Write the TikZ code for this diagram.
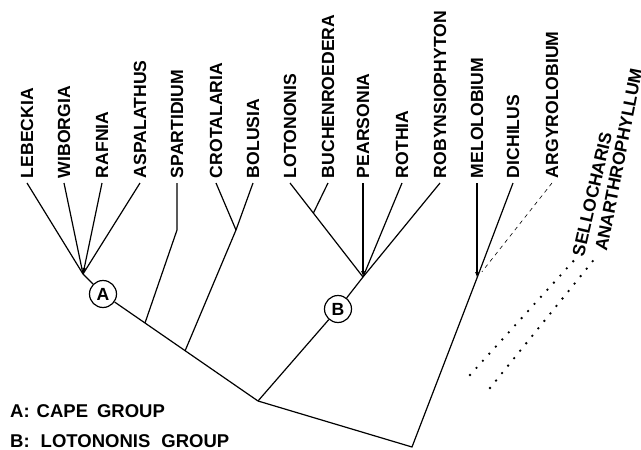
\documentclass[tikz,border=0pt]{standalone}
\usepackage{fontspec}
\setmainfont{Liberation Sans}
\usetikzlibrary{arrows.meta,calc}
\newcommand\labfont{\fontsize{17.6}{20}\selectfont\bfseries}
\newcommand\legfont{\fontsize{18.5}{21}\selectfont\bfseries}
\begin{document}
\begin{tikzpicture}[x=1pt,y=-1pt,
  taxon/.style={rotate=90,anchor=west,inner sep=0pt,outer xsep=5pt,font=\labfont},
  slant/.style={anchor=west,inner sep=0pt,font=\labfont},
  br/.style={line width=1.2pt},
  tip/.style={-{Latex[length=6pt,width=4pt]}},
  grp/.style={circle,draw,line width=1.2pt,minimum size=27pt,inner sep=0pt,font=\labfont},
  dotrow/.style={line width=2.6pt,line cap=round,dash pattern=on 0pt off 9.6pt},
  legend/.style={anchor=base west,inner sep=0pt,font=\legfont}]
\useasboundingbox (0,0) rectangle (641,450);
% taxa
\node[taxon] (leb) at (27,183) {LEBECKIA};
\node[taxon] (wib) at (64,183) {WIBORGIA};
\node[taxon] (raf) at (102,183) {RAFNIA};
\node[taxon] (asp) at (140,183) {ASPALATHUS};
\node[taxon] (spa) at (177,183) {SPARTIDIUM};
\node[taxon] (cro) at (216,183) {CROTALARIA};
\node[taxon] (bol) at (253,183) {BOLUSIA};
\node[taxon] (lot) at (290,183) {LOTONONIS};
\node[taxon] (buc) at (328,183) {BUCHENROEDERA};
\node[taxon] (pea) at (363,183) {PEARSONIA};
\node[taxon] (rot) at (402,183) {ROTHIA};
\node[taxon] (rob) at (440,183) {ROBYNSIOPHYTON};
\node[taxon] (mel) at (477,183) {MELOLOBIUM};
\node[taxon] (dic) at (513,183) {DICHILUS};
\node[taxon] (arg) at (552,183) {ARGYROLOBIUM};
\node[slant,rotate=77] (sel) at (578,256) {SELLOCHARIS};
\node[slant,rotate=79] (ana) at (601,251) {ANARTHROPHYLLUM};
% junctions
\coordinate (jA) at (83,274);
\node[grp] (A) at (103,294) {A};
\coordinate (kSp) at (177,230);
\coordinate (jCB) at (236,230);
\coordinate (jSp) at (145,323);
\coordinate (jBo) at (185,351);
\coordinate (r1) at (258,401);
\coordinate (jB) at (363,277);
\node[grp] (B) at (338,309) {B};
\coordinate (jBu) at ($(lot.west)!0.32!(jB)$);
\coordinate (r2) at (412,447);
\coordinate (jM) at (477,278);
\coordinate (s0) at (470,375);
\coordinate (a0) at (490,388);
% cape group
\draw[br] (leb.west) -- (jA);
\draw[br] (wib.west) -- (jA);
\draw[br,tip] (raf.west) -- (jA);
\draw[br] (asp.west) -- (jA);
\draw[br] (jA) -- (A);
\draw[br] (A) -- (r1);
\draw[br] (spa.west) -- (kSp) -- (jSp);
\draw[br] (cro.west) -- (jCB);
\draw[br] (bol.west) -- (jCB) -- (jBo);
% lotononis group
\draw[br] (lot.west) -- (jB);
\draw[br] (buc.west) -- (jBu);
\draw[br,tip] (pea.west) -- (jB);
\draw[br] (rot.west) -- (jB);
\draw[br] (rob.west) -- (jB);
\draw[br] (jB) -- (B);
\draw[br] (B) -- (r1);
% root
\draw[br] (r1) -- (r2) -- (jM);
\draw[br,tip] (mel.west) -- (jM);
\draw[br] (dic.west) -- (jM);
\draw[line width=0.6pt,dash pattern=on 4pt off 4pt,shorten >=8pt] (arg.west) -- (jM);
% dotted
\draw[dotrow,shorten >=3pt] (s0) -- (sel.west);
\draw[dotrow,shorten >=5pt] (a0) -- (ana.west);
% legend
\node[legend] (legA) at (10,417) {A:\hspace{7pt}CAPE\hspace{9pt}GROUP};
\node[legend] (legB) at (10,447) {B:\hspace{11pt}LOTONONIS\hspace{11pt}GROUP};
\end{tikzpicture}
\end{document}
